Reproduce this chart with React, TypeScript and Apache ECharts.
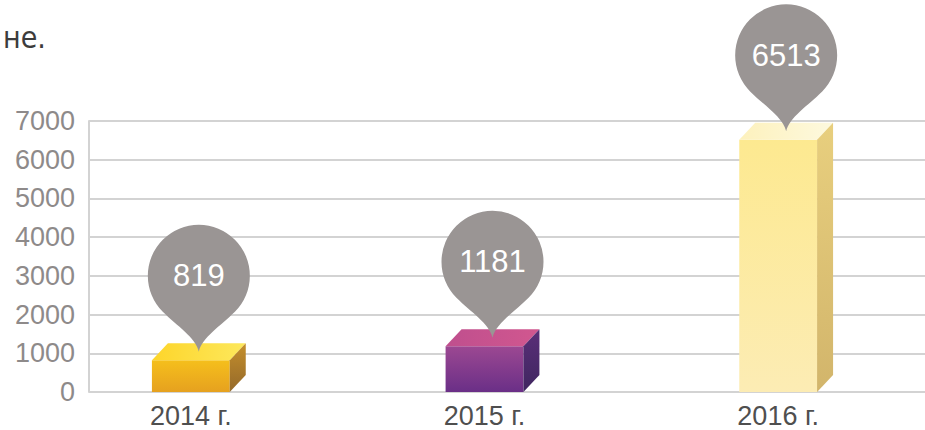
import React, { useEffect, useRef } from "react";
import * as echarts from "echarts";

const years = ["2014 г.", "2015 г.", "2016 г."];
const values = [819, 1181, 6513];
const yMin = 0;
const yMax = 7000;
const yStep = 1000;

// styles (per bar): front, top face, side face gradients
const palette = [
  { front: ["#f5bf1c", "#e6a11f"], top: ["#fdd52a", "#fde85c"], side: ["#c58f2c", "#94692a"] },
  { front: ["#9c4892", "#6a2f87"], top: ["#bf4f8e", "#d1578f"], side: ["#5a2f78", "#3f2660"] },
  { front: ["#fde990", "#fcecb4"], top: ["#fdf1bd", "#fdf9de"], side: ["#e8cf7e", "#d2b56b"] },
];

function grad(c: string[], horizontal = false) {
  return new echarts.graphic.LinearGradient(0, 0, horizontal ? 1 : 0, horizontal ? 0 : 1, [
    { offset: 0, color: c[0] },
    { offset: 1, color: c[1] },
  ]);
}

function pinPath(tx: number, ty: number) {
  const r = 51;
  const cx = tx;
  const cy = ty - 76;
  const s = r * Math.SQRT1_2;
  return (
    `M${tx} ${ty} C${tx - 3} ${ty - 14} ${cx - s + 14} ${cy + s + 14} ${cx - s} ${cy + s} ` +
    `A${r} ${r} 0 1 1 ${cx + s} ${cy + s} ` +
    `C${cx + s - 14} ${cy + s + 14} ${tx + 3} ${ty - 14} ${tx} ${ty} Z`
  );
}

export default function App() {
  const ref = useRef<HTMLDivElement>(null);
  useEffect(() => {
    const chart = echarts.init(ref.current!, null, { renderer: "svg" });
    const font = '"Liberation Sans", Arial, Helvetica, sans-serif';
    chart.setOption({
      animation: false,
      graphic: [
        {
          type: "text",
          left: 3,
          top: 22,
          style: {
            text: "не.",
            fill: "#3c3c3c",
            fontSize: 30,
            fontFamily: '"DejaVu Sans Condensed", "Liberation Sans Narrow", sans-serif',
          },
        },
      ],
      grid: [
        { left: 89, right: 0, top: 121, bottom: 38 },
        { left: 44, right: 0, top: 121, bottom: 38 },
      ],
      xAxis: [
        { type: "category", data: years, gridIndex: 0, show: false },
        {
          type: "category",
          data: years,
          gridIndex: 1,
          axisLine: { show: false },
          axisTick: { show: false },
          axisLabel: { fontSize: 27, color: "#4f4f4f", fontFamily: font, margin: 10 },
        },
      ],
      yAxis: [
        {
          type: "value",
          gridIndex: 0,
          min: yMin,
          max: yMax,
          interval: yStep,
          axisLine: { show: true, lineStyle: { color: "#d3d3d3", width: 2 } },
          axisTick: { show: false },
          splitLine: { show: true, lineStyle: { color: "#d3d3d3", width: 2 } },
          axisLabel: {
            fontSize: 27,
            color: "#8e8a8a",
            fontFamily: font,
            margin: 14,
            formatter: (v: number) => String(v),
          },
        },
        { type: "value", gridIndex: 1, min: yMin, max: yMax, interval: yStep, show: false },
      ],
      series: [
        {
          type: "custom",
          xAxisIndex: 1,
          yAxisIndex: 1,
          clip: false,
          data: values.map((v, i) => [i, v]),
          encode: { x: 0, y: 1 },
          renderItem: (params: any, api: any) => {
            const i = api.value(0);
            const v = api.value(1);
            const top = api.coord([i, v]);
            const base = api.coord([i, 0]);
            const band = api.size([1, 0])[0];
            const half = (band * 0.265) / 2;
            const dx = 16;
            const dy = 17;
            const x0 = top[0] - half;
            const x1 = top[0] + half;
            const yt = top[1];
            const yb = base[1];
            const p = palette[params.dataIndex % palette.length];
            const tipX = top[0] + dx / 2;
            const tipY = yt - dy / 2;
            return {
              type: "group",
              children: [
                {
                  type: "rect",
                  shape: { x: x0, y: yt, width: x1 - x0, height: yb - yt },
                  style: { fill: grad(p.front) },
                },
                {
                  type: "polygon",
                  shape: { points: [[x0, yt], [x0 + dx, yt - dy], [x1 + dx, yt - dy], [x1, yt]] },
                  style: { fill: grad(p.top, true) },
                },
                {
                  type: "polygon",
                  shape: { points: [[x1, yt], [x1 + dx, yt - dy], [x1 + dx, yb - dy], [x1, yb]] },
                  style: { fill: grad(p.side) },
                },
                {
                  type: "path",
                  shape: { pathData: pinPath(tipX, tipY) },
                  style: { fill: "#9a9594" },
                },
                {
                  type: "text",
                  x: tipX,
                  y: tipY - 76,
                  style: {
                    text: String(v),
                    fill: "#ffffff",
                    fontSize: 31,
                    fontFamily: font,
                    align: "center",
                    verticalAlign: "middle",
                  },
                },
              ],
            };
          },
        },
      ],
    });
    return () => chart.dispose();
  }, []);
  return (
    <div
      ref={ref}
      style={{ position: "fixed", left: 0, top: 0, width: 925, height: 430, background: "#ffffff" }}
    />
  );
}
